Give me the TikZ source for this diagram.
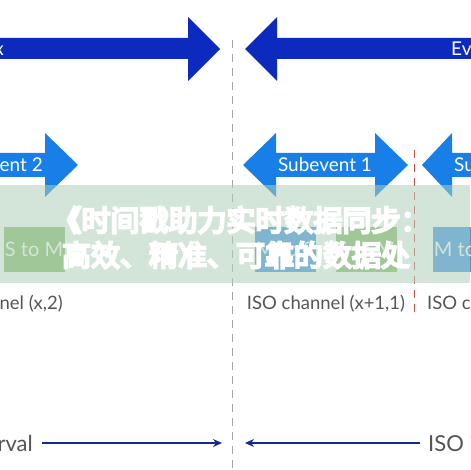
\documentclass[tikz,border=0pt]{standalone}
\usepackage{fontspec}
\setmainfont{Lato}
\newfontfamily\cjk{Noto Sans CJK SC}[AutoFakeBold=8]
\usetikzlibrary{arrows.meta}
\definecolor{evblue}{RGB}{12,42,190}
\definecolor{subblue}{RGB}{24,126,232}
\definecolor{msblue}{RGB}{70,150,235}
\definecolor{smgreen}{RGB}{140,190,115}
\definecolor{bandgreen}{RGB}{175,208,184}
\definecolor{labgray}{RGB}{85,85,85}
\definecolor{ivnavy}{RGB}{20,40,150}
\definecolor{cutred}{RGB}{200,80,80}

\begin{document}
\begin{tikzpicture}[x=1pt, y=-1pt,
  lab/.style={text=labgray, font=\fontsize{18.5}{22}\selectfont, inner sep=0pt},
  ivlab/.style={lab, font=\fontsize{22}{26}\selectfont},
  arlab/.style={text=white, font=\fontsize{19}{22}\selectfont, inner sep=0pt},
  evshape/.style={fill=evblue},
  subshape/.style={fill=subblue},
  msbox/.style={fill=msblue, minimum width=61pt, minimum height=45pt, inner sep=0pt,
                text=white, font=\fontsize{20}{24}\selectfont},
  smbox/.style={msbox, fill=smgreen},
  divider/.style={draw=gray!70, line width=1pt, dash pattern=on 8pt off 6pt},
  cutline/.style={divider, draw=cutred},
  ivar/.style={-{Stealth[length=9pt, width=8pt]}, draw=ivnavy, line width=1.2pt},
  band/.style={fill=bandgreen, fill opacity=0.55},
  cjktext/.style={text=white, font=\cjk\bfseries\fontsize{29}{35}\selectfont, inner sep=0pt}
]
\useasboundingbox (0,0) rectangle (470,470);

\fill[evshape] (-10,38) -- (188,38) -- (188,17) -- (220,49) -- (188,81) -- (188,59) -- (-10,59) -- cycle;
\fill[evshape] (480,38) -- (277,38) -- (277,17) -- (245,49) -- (277,81) -- (277,59) -- (480,59) -- cycle;
\node[arlab, anchor=east] (evx) at (4,49) {Event x};
\node[arlab, anchor=west] (evy) at (451,49) {Event x+1};

\fill[subshape] (-10,153) -- (45,153) -- (45,133) -- (78,165) -- (45,197) -- (45,177) -- (-10,177) -- cycle;
\fill[subshape] (243,165) -- (276,133) -- (276,153) -- (375,153) -- (375,133) -- (408,165)
  -- (375,197) -- (375,177) -- (276,177) -- (276,197) -- cycle;
\fill[subshape] (480,153) -- (452,153) -- (452,133) -- (422,165) -- (452,197) -- (452,177) -- (480,177) -- cycle;
\node[arlab, anchor=east] (subA) at (43,165) {Subevent 2};
\node[arlab] (subB) at (325,165) {Subevent 1};
\node[arlab, anchor=west] (subC) at (454,165) {Subevent 2};

\node[smbox] (smA) at (34,249.5) {S to M};
\node[msbox] (msA) at (285,249.5) {M to S};
\node[smbox] (smB) at (366,249.5) {S to M};
\node[msbox] (msB) at (463,249.5) {M to S};

\node[lab, anchor=east] (chA) at (63,304) {ISO channel (x,2)};
\node[lab] (chB) at (326,304) {ISO channel (x+1,1)};
\node[lab, anchor=west] (chC) at (427,304) {ISO channel (x+1,2)};

\coordinate (dvT) at (232,40);
\coordinate (dvB) at (232,475);
\draw[divider] (dvT) -- (dvB);
\coordinate (ctT) at (414,150);
\coordinate (ctB) at (414,318);
\draw[cutline] (ctT) -- (ctB);

\node[ivlab, anchor=east] (ivA) at (33,443) {ISO interval};
\node[ivlab, anchor=west] (ivB) at (428,443) {ISO interval};
\coordinate (ivAend) at (222,443);
\coordinate (ivBend) at (245,443);
\draw[ivar, shorten <=9pt] (ivA) -- (ivAend);
\draw[ivar, shorten <=8pt] (ivB) -- (ivBend);

\fill[band] (0,185) rectangle (470,283);
\node[cjktext] (ttlA) at (241,220) {《时间戳助力实时数据同步：};
\node[cjktext] (ttlB) at (236,255) {高效、精准、可靠的数据处};
\end{tikzpicture}
\end{document}
